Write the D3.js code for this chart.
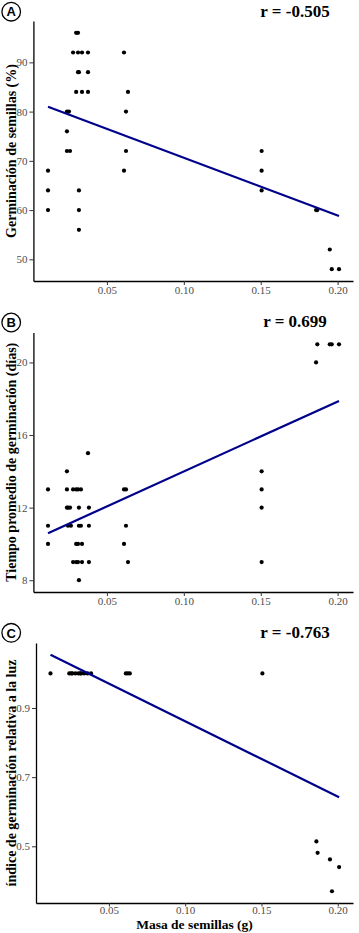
<!DOCTYPE html>
<html>
<head>
<meta charset="utf-8">
<script src="https://cdn.jsdelivr.net/npm/d3@7"></script>
<style>
  body { margin: 0; background: #fff; }
  .tick text { font-family: 'Liberation Serif', 'Times New Roman', serif; font-size: 11px; fill: #4d4d4d; }
  .tick line { stroke: #333; }
  .domain { stroke: #000; stroke-width: 1.3px; }
</style>
</head>
<body>
<div id="chart"></div>
<script>
const width = 359
const height = 933

// seed mass (g) shared x ticks
const xTicks = [0.05, 0.10, 0.15, 0.20]

// panel A - germinacion (%)
const masaA = [0.0117, 0.0117, 0.0117, 0.024, 0.024, 0.024, 0.0253, 0.026, 0.028, 0.030, 0.030,
  0.0312, 0.0312, 0.0312, 0.0318, 0.0318, 0.0318, 0.0318, 0.0338, 0.0338, 0.0377, 0.0377, 0.0377,
  0.0611, 0.0611, 0.0624, 0.0624, 0.0637, 0.1506, 0.1506, 0.1506, 0.186, 0.1868, 0.1949, 0.1962, 0.2009]
const germA = [68, 64, 60, 80, 76, 72, 80, 72, 92, 96, 84,
  96, 92, 88, 88, 64, 60, 56, 92, 84, 92, 88, 84,
  92, 68, 80, 72, 84, 72, 68, 64, 60, 60, 52, 48, 48]
const yTicksA = [50, 60, 70, 80, 90]
const fitA = [[0.0117, 81.0], [0.2009, 58.8]]

// panel B - tiempo promedio (dias)
const masaB = [0.0117, 0.0117, 0.0117, 0.024, 0.024, 0.024, 0.0247, 0.0247, 0.026, 0.0266,
  0.028, 0.028, 0.030, 0.030, 0.030, 0.0312, 0.0312, 0.0312, 0.0318, 0.0318, 0.0318, 0.0331, 0.0331,
  0.0338, 0.0338, 0.0377, 0.0383, 0.0383, 0.0383, 0.0611, 0.0611, 0.0624, 0.0624, 0.0637,
  0.1506, 0.1506, 0.1506, 0.1506, 0.186, 0.1868, 0.1949, 0.1962, 0.2009]
const tiempoB = [13, 11, 10, 14, 13, 12, 12, 11, 12, 11,
  13, 9, 13, 10, 9, 13, 10, 9, 12, 11, 8, 13, 11,
  10, 9, 15, 12, 11, 9, 13, 10, 13, 11, 9,
  14, 13, 12, 9, 20, 21, 21, 21, 21]
const yTicksB = [8, 12, 16, 20]
const fitB = [[0.0117, 10.59], [0.2009, 17.88]]

// panel C - indice de germinacion relativa a la luz
const masaC = [0.0117, 0.024, 0.0253, 0.026, 0.028, 0.030, 0.0312, 0.0318, 0.0338, 0.036, 0.0383,
  0.0611, 0.0624, 0.0637, 0.1506, 0.186, 0.1868, 0.1949, 0.2009, 0.1962]
const indiceC = [1, 1, 1, 1, 1, 1, 1, 1, 1, 1, 1,
  1, 1, 1, 1, 0.514, 0.481, 0.462, 0.44, 0.37]
const yTicksC = [0.5, 0.7, 0.9]
const fitC = [[0.0117, 1.054], [0.2009, 0.642]]

const letters = ['A', 'B', 'C']
const rLabels = ['r = -0.505', 'r = 0.699', 'r = -0.763']
const yTitles = ['Germinación de semillas (%)', 'Tiempo promedio de germinación (días)',
  'índice de germinación relativa a la luz']
const xTitle = 'Masa de semillas (g)'

const svg = d3.select('#chart')
  .append('svg')
  .attr('width', width)
  .attr('height', height)

const panels = [
  { xs: masaA, ys: germA, ticks: yTicksA, fit: fitA, yDomain: [45.6, 98.4], top: 21, bottom: 281, left: 33.4, rY: 16.7, letterY: 11.7, xTick: 4, xPad: 1 },
  { xs: masaB, ys: tiempoB, ticks: yTicksB, fit: fitB, yDomain: [7.35, 21.65], top: 332.5, bottom: 592, left: 33.4, rY: 327.3, letterY: 322.5, xTick: 4, xPad: 1 },
  { xs: masaC, ys: indiceC, ticks: yTicksC, fit: fitC, yDomain: [0.336, 1.088], top: 643, bottom: 903, left: 36, rY: 638.3, letterY: 632.8, xTick: 3.5, xPad: 0 }
]

panels.forEach((p, i) => {
  const g = svg.append('g')
  const xScale = d3.scaleLinear().domain([0.0022, 0.21]).range([p.left, 353])
  const yScale = d3.scaleLinear().domain(p.yDomain).range([p.bottom, p.top])

  g.append('g')
    .attr('transform', `translate(0, ${p.bottom})`)
    .call(d3.axisBottom(xScale).tickValues(xTicks).tickFormat(d3.format('.2f'))
      .tickSize(p.xTick).tickSizeOuter(0).tickPadding(p.xPad))

  const fmt = i === 2 ? d3.format('.1f') : d3.format('d')
  g.append('g')
    .attr('transform', `translate(${p.left}, 0)`)
    .call(d3.axisLeft(yScale).tickValues(p.ticks).tickFormat(fmt)
      .tickSize(4).tickSizeOuter(0).tickPadding(2))

  g.selectAll('circle.pt')
    .data(p.xs.map((x, k) => [x, p.ys[k]]))
    .enter()
    .append('circle')
    .attr('class', 'pt')
    .attr('cx', d => xScale(d[0]))
    .attr('cy', d => yScale(d[1]))
    .attr('r', 2.1)
    .attr('fill', '#000')

  g.append('path')
    .datum(p.fit)
    .attr('d', d3.line().x(d => xScale(d[0])).y(d => yScale(d[1])))
    .attr('stroke', '#00008b')
    .attr('stroke-width', 2.2)
    .attr('fill', 'none')

  // y axis title
  g.append('text')
    .attr('transform', `translate(15.5, ${(p.top + p.bottom) / 2}) rotate(-90)`)
    .attr('text-anchor', 'middle')
    .style('font-family', "'Liberation Serif', 'Times New Roman', serif")
    .style('font-weight', 'bold')
    .style('font-size', '14px')
    .text(yTitles[i])

  // correlation label
  g.append('text')
    .attr('x', 295)
    .attr('y', p.rY)
    .attr('text-anchor', 'middle')
    .style('font-family', "'Liberation Serif', 'Times New Roman', serif")
    .style('font-weight', 'bold')
    .style('font-size', '17px')
    .text(rLabels[i])

  // circled panel letter
  g.append('circle')
    .attr('cx', 11.2)
    .attr('cy', p.letterY)
    .attr('r', 9.3)
    .attr('fill', '#fff')
    .attr('stroke', '#000')
    .attr('stroke-width', 1.3)
  g.append('text')
    .attr('x', 11.2)
    .attr('y', p.letterY + 4.7)
    .attr('text-anchor', 'middle')
    .style('font-family', "'Liberation Sans', Arial, sans-serif")
    .style('font-weight', 'bold')
    .style('font-size', '13px')
    .text(letters[i])
})

svg.append('text')
  .attr('x', 194.5)
  .attr('y', 929)
  .attr('text-anchor', 'middle')
  .style('font-family', "'Liberation Serif', 'Times New Roman', serif")
  .style('font-weight', 'bold')
  .style('font-size', '13.5px')
  .text(xTitle)
</script>
</body>
</html>
